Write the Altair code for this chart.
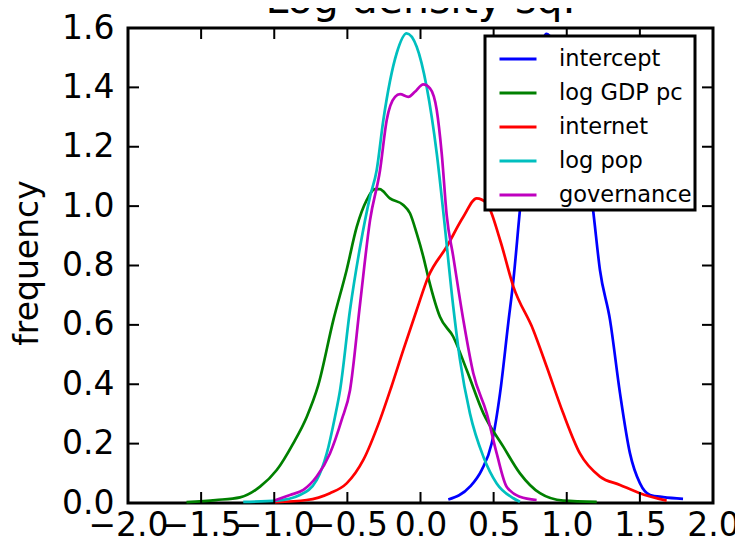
import altair as alt
import pandas as pd

# ---- data ----
intercept_x = [0.19, 0.338, 0.418, 0.487, 0.544, 0.60, 0.635, 0.68, 0.73, 0.78, 0.82, 0.86, 0.92, 1.00, 1.08, 1.14, 1.18, 1.227, 1.296, 1.364, 1.432, 1.50, 1.57, 1.66, 1.795]
intercept_y = [0.012, 0.055, 0.111, 0.201, 0.37, 0.606, 0.75, 0.987, 1.22, 1.42, 1.53, 1.58, 1.55, 1.46, 1.32, 1.14, 0.987, 0.785, 0.616, 0.37, 0.168, 0.067, 0.027, 0.02, 0.014]

gdp_x = [-1.60, -1.40, -1.234, -1.097, -0.983, -0.87, -0.778, -0.70, -0.596, -0.505, -0.436, -0.368, -0.311, -0.28, -0.209, -0.118, -0.072, -0.026, 0.019, 0.058, 0.133, 0.224, 0.316, 0.43, 0.566, 0.68, 0.817, 0.976, 1.205]
gdp_y = [0.003, 0.010, 0.019, 0.055, 0.111, 0.201, 0.29, 0.395, 0.616, 0.785, 0.93, 1.02, 1.057, 1.057, 1.026, 1.004, 0.976, 0.908, 0.83, 0.75, 0.627, 0.56, 0.448, 0.302, 0.19, 0.10, 0.033, 0.008, 0.004]

internet_x = [-0.995, -0.778, -0.619, -0.505, -0.391, -0.277, -0.20, -0.118, -0.026, 0.053, 0.179, 0.293, 0.384, 0.453, 0.544, 0.635, 0.771, 0.863, 0.976, 1.09, 1.227, 1.364, 1.50, 1.683]
internet_y = [0.003, 0.01, 0.033, 0.066, 0.145, 0.28, 0.39, 0.515, 0.65, 0.762, 0.863, 0.964, 1.026, 1.009, 0.886, 0.729, 0.583, 0.459, 0.302, 0.167, 0.089, 0.061, 0.033, 0.008]

pop_x = [-1.212, -0.983, -0.824, -0.71, -0.641, -0.585, -0.55, -0.482, -0.413, -0.345, -0.30, -0.254, -0.163, -0.095, -0.026, 0.042, 0.111, 0.156, 0.224, 0.27, 0.338, 0.43, 0.521, 0.635, 0.68]
pop_y = [0.004, 0.008, 0.027, 0.077, 0.167, 0.29, 0.38, 0.65, 0.863, 1.032, 1.12, 1.29, 1.515, 1.582, 1.537, 1.402, 1.178, 0.98, 0.661, 0.482, 0.302, 0.156, 0.066, 0.016, 0.004]

gov_x = [-1.0, -0.892, -0.801, -0.71, -0.619, -0.539, -0.482, -0.413, -0.345, -0.277, -0.231, -0.174, -0.14, -0.083, -0.038, 0.019, 0.065, 0.111, 0.145, 0.179, 0.224, 0.293, 0.361, 0.453, 0.521, 0.589, 0.68, 0.794]
gov_y = [0.008, 0.027, 0.044, 0.089, 0.167, 0.28, 0.38, 0.672, 0.953, 1.12, 1.29, 1.368, 1.377, 1.368, 1.385, 1.41, 1.397, 1.324, 1.178, 0.97, 0.83, 0.616, 0.437, 0.302, 0.167, 0.055, 0.021, 0.01]

series_names = ["intercept", "log GDP pc", "internet", "log pop", "governance"]
series_colors = ["#0000ff", "#008000", "#ff0000", "#00bfbf", "#bf00bf"]

x_ticks = [-2.0, -1.5, -1.0, -0.5, 0.0, 0.5, 1.0, 1.5, 2.0]
y_ticks = [0.0, 0.2, 0.4, 0.6, 0.8, 1.0, 1.2, 1.4, 1.6]

title_text = "Log density sq."
y_title = "frequency"

# ---- build table ----
rows = []
for name, xs, ys in zip(series_names,
                        [intercept_x, gdp_x, internet_x, pop_x, gov_x],
                        [intercept_y, gdp_y, internet_y, pop_y, gov_y]):
    for i, (a, b) in enumerate(zip(xs, ys)):
        rows.append({"series": name, "x": a, "y": b, "order": i})
df = pd.DataFrame(rows)

W, H = 585, 475
FONT = "DejaVu Sans"
TICK = 11

xscale = alt.Scale(domain=[-2.0, 2.0], nice=False, zero=False)
yscale = alt.Scale(domain=[0.0, 1.6], nice=False, zero=False)

xaxis = alt.Axis(values=x_ticks, format=".1f", ticks=False, domain=False, grid=False,
                 labelFont=FONT, labelFontSize=33, labelColor="black", labelPadding=6,
                 labelOverlap=False, labelFlush=False, title=None)
yaxis = alt.Axis(values=y_ticks, format=".1f", ticks=False, domain=False, grid=False,
                 labelFont=FONT, labelFontSize=33, labelColor="black", labelPadding=14,
                 labelOverlap=False, labelFlush=False,
                 title=y_title, titleFont=FONT, titleFontSize=33, titleFontWeight="normal",
                 titleColor="black", titleAngle=-90, titleX=-91, titleY=H / 2 - 3,
                 titleAlign="center", titleBaseline="alphabetic")

lines = alt.Chart(df).mark_line(strokeWidth=2.7, interpolate="monotone").encode(
    x=alt.X("x:Q", scale=xscale, axis=xaxis),
    y=alt.Y("y:Q", scale=yscale, axis=yaxis),
    color=alt.Color("series:N",
                    scale=alt.Scale(domain=series_names, range=series_colors),
                    sort=series_names,
                    legend=alt.Legend(orient="none", legendX=357, legendY=8, title=None,
                                      symbolType="stroke", symbolSize=1369, symbolOffset=10,
                                      symbolStrokeWidth=3, labelFont=FONT,
                                      labelFontSize=22.5, labelColor="black",
                                      labelOffset=21, padding=3, rowPadding=2,
                                      strokeColor="black", fillColor="white")),
    order="order:Q",
)

xt_df = pd.DataFrame({"v": x_ticks})
yt_df = pd.DataFrame({"v": y_ticks})

bottom_ticks = alt.Chart(xt_df).mark_rule(color="black", strokeWidth=2).encode(
    x=alt.X("v:Q", scale=xscale, axis=xaxis), y=alt.value(H), y2=alt.value(H - TICK))
top_ticks = alt.Chart(xt_df).mark_rule(color="black", strokeWidth=2).encode(
    x=alt.X("v:Q", scale=xscale, axis=xaxis), y=alt.value(0), y2=alt.value(TICK))
left_ticks = alt.Chart(yt_df).mark_rule(color="black", strokeWidth=2).encode(
    y=alt.Y("v:Q", scale=yscale, axis=yaxis), x=alt.value(0), x2=alt.value(TICK))
right_ticks = alt.Chart(yt_df).mark_rule(color="black", strokeWidth=2).encode(
    y=alt.Y("v:Q", scale=yscale, axis=yaxis), x=alt.value(W), x2=alt.value(W - TICK))

title = alt.Chart(pd.DataFrame({"t": [title_text]})).mark_text(
    font=FONT, fontSize=41, color="black", align="center", baseline="alphabetic"
).encode(text="t:N", x=alt.value(W / 2), y=alt.value(-15.3))

chart = alt.layer(lines, bottom_ticks, top_ticks, left_ticks, right_ticks, title).properties(
    width=W, height=H,
    background="white",
    autosize=alt.AutoSizeParams(type="none"),
    padding={"left": 120, "top": 20, "right": 22, "bottom": 37},
).configure_view(stroke="black", strokeWidth=3).configure_legend(strokeWidth=3)

chart.save("out.html", embed_options={"renderer": "svg", "actions": False})
